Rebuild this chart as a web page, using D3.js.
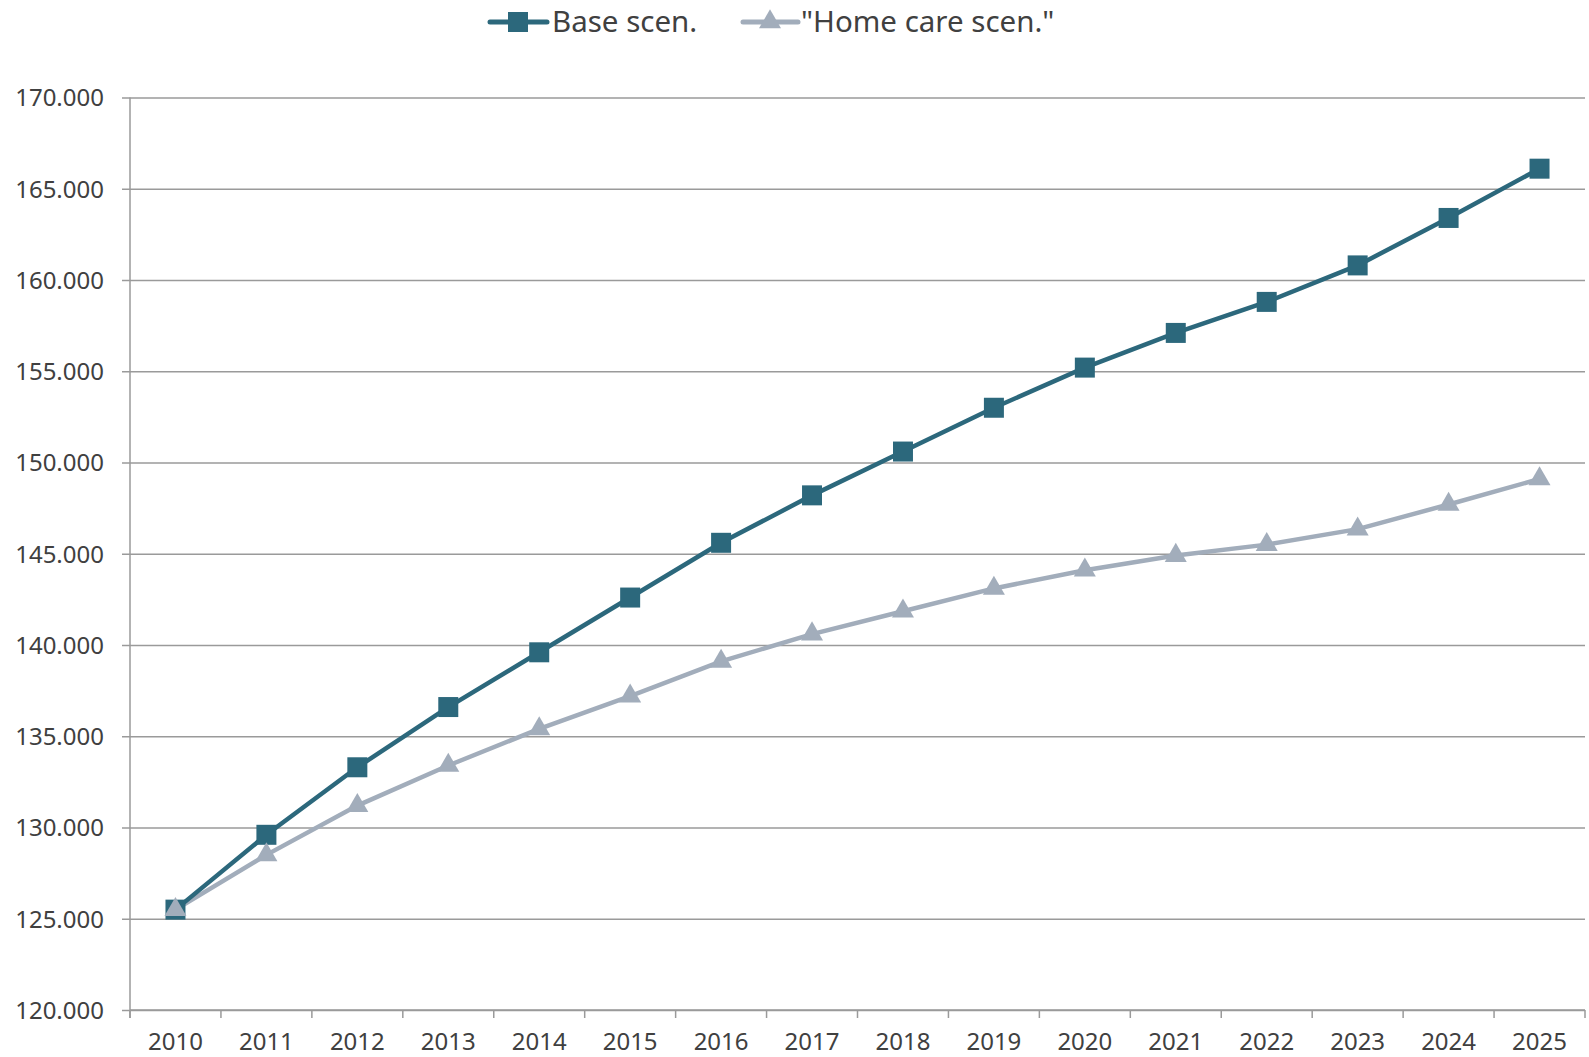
<!DOCTYPE html>
<html>
<head>
<meta charset="utf-8">
<script src="https://cdn.jsdelivr.net/npm/d3@7"></script>
<style>
  html, body { margin: 0; padding: 0; background: #fff; }
  svg { display: block; font-family: "Noto Sans", "Open Sans", sans-serif; }
</style>
</head>
<body>
<svg id="chart" width="1589" height="1057"></svg>
<script>
// Years on the horizontal axis
const years = ["2010","2011","2012","2013","2014","2015","2016","2017","2018","2019","2020","2021","2022","2023","2024","2025"];

// Series values (thousands, shown with a dot as thousands separator)
const baseScenario = [125.5, 129.6, 133.3, 136.6, 139.6, 142.6, 145.6, 148.2, 150.6, 153.0, 155.2, 157.1, 158.8, 160.8, 163.4, 166.1];
const homeCareScenario = [125.5, 128.5, 131.2, 133.4, 135.4, 137.2, 139.1, 140.6, 141.85, 143.1, 144.1, 144.9, 145.5, 146.35, 147.7, 149.1];

// Y tick values
const yTicks = [120, 125, 130, 135, 140, 145, 150, 155, 160, 165, 170];

const seriesNames = ["Base scen.", "\"Home care scen.\""];
const colors = ["#2c687c", "#a2adbb"];

const svg = d3.select("#chart");
const margin = { left: 130, right: 4, top: 97.5, bottom: 47 };
const W = 1589, H = 1057;
const FONT = "'Noto Sans', 'Open Sans', sans-serif";

const x = d3.scaleBand().domain(years).range([margin.left, W - margin.right]).padding(0);
const y = d3.scaleLinear().domain([120, 170]).range([H - margin.bottom, margin.top]);

const textColor = "#404040";
const gridColor = "#9a9a9a";
const fmt = v => d3.format(".3f")(v).replace(",", "");

// Horizontal gridlines with left tick marks
const yAxis = d3.axisLeft(y).tickValues(yTicks).tickSize(-(W - margin.right - margin.left)).tickSizeOuter(0).tickFormat(fmt).tickPadding(26);
const gy = svg.append("g").attr("transform", `translate(${margin.left},0)`).call(yAxis)
  .attr("font-family", FONT).attr("font-size", 24);
gy.select(".domain").remove();
gy.selectAll(".tick line").attr("stroke", gridColor).attr("stroke-width", 1.5).attr("x1", -8);
gy.selectAll(".tick text").attr("fill", textColor).attr("dy", "0.35em");

// Vertical axis line
svg.append("line")
  .attr("x1", margin.left).attr("x2", margin.left)
  .attr("y1", y(170)).attr("y2", y(120) + 8)
  .attr("stroke", gridColor).attr("stroke-width", 1.5);

// Bottom axis with ticks at category boundaries
const bottom = y(120);
svg.append("line")
  .attr("x1", margin.left).attr("x2", W - margin.right)
  .attr("y1", bottom).attr("y2", bottom)
  .attr("stroke", gridColor).attr("stroke-width", 1.5);
const boundaries = years.map(d => x(d)).concat([x(years[years.length - 1]) + x.bandwidth()]);
svg.append("g").selectAll("line").data(boundaries).join("line")
  .attr("x1", d => d).attr("x2", d => d)
  .attr("y1", bottom).attr("y2", bottom + 8)
  .attr("stroke", gridColor).attr("stroke-width", 1.5);
svg.append("g").attr("font-family", FONT).selectAll("text").data(years).join("text")
  .attr("x", d => x(d) + x.bandwidth() / 2)
  .attr("y", bottom + 32)
  .attr("dy", "0.35em")
  .attr("text-anchor", "middle")
  .attr("fill", textColor)
  .style("font-size", "24px")
  .text(d => d);

const cx = d => x(d) + x.bandwidth() / 2;
const line = d3.line().x((d, i) => cx(years[i])).y(d => y(d));

const square = d3.symbol().type(d3.symbolSquare).size(20 * 20);
const tri = d3.symbol().type(d3.symbolTriangle).size(210);

// Home care scenario (drawn first, underneath)
svg.append("path").datum(homeCareScenario)
  .attr("d", line).attr("fill", "none").attr("stroke", colors[1]).attr("stroke-width", 4.5);
// Base scenario
svg.append("path").datum(baseScenario)
  .attr("d", line).attr("fill", "none").attr("stroke", colors[0]).attr("stroke-width", 4.5);

svg.append("g").selectAll("path").data(baseScenario).join("path")
  .attr("d", square)
  .attr("transform", (d, i) => `translate(${cx(years[i])},${y(d)})`)
  .attr("fill", colors[0]);
svg.append("g").selectAll("path").data(homeCareScenario).join("path")
  .attr("d", tri)
  .attr("transform", (d, i) => `translate(${cx(years[i])},${y(d)})`)
  .attr("fill", colors[1]);

// Legend
const legend = svg.append("g").attr("transform", "translate(0,22)").attr("font-family", FONT);
const legendItems = [
  { name: seriesNames[0], x0: 490, x1: 547, mx: 518, tx: 552, sym: square, color: colors[0] },
  { name: seriesNames[1], x0: 743, x1: 798, mx: 770, tx: 801, sym: tri, color: colors[1] }
];
legendItems.forEach(it => {
  legend.append("line").attr("x1", it.x0).attr("x2", it.x1)
    .attr("y1", 0).attr("y2", 0).attr("stroke", it.color).attr("stroke-width", 5).attr("stroke-linecap", "round");
  legend.append("path").attr("d", it.sym).attr("transform", `translate(${it.mx},0)`).attr("fill", it.color);
  legend.append("text").attr("x", it.tx).attr("y", 0).attr("dy", "0.35em")
    .attr("fill", textColor).style("font-size", "29.5px").text(it.name);
});
</script>
</body>
</html>
